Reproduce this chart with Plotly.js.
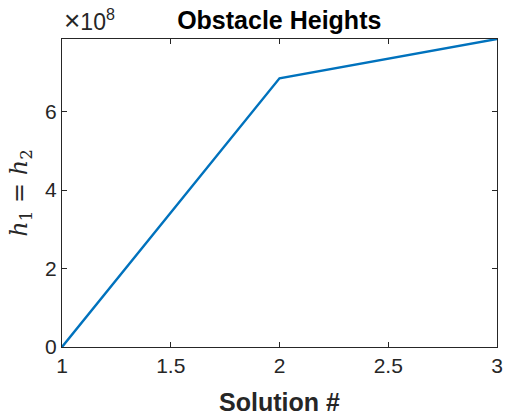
<!DOCTYPE html>
<html>
<head>
<meta charset="utf-8">
<script src="https://cdn.plot.ly/plotly-3.0.1.min.js"></script>
<style>html,body{margin:0;padding:0;background:#fff;}#chart{width:505px;height:419px;}</style>
</head>
<body>
<div id="chart"></div>
<script>
const solutions = [1, 2, 3];
const heights = [0, 6.85e8, 7.85e8];
const xTickVals = [1, 1.5, 2, 2.5, 3];
const xTickText = ['1', '1.5', '2', '2.5', '3'];
const yTickVals = [0, 2e8, 4e8, 6e8];
const yTickText = ['0', '2', '4', '6'];

const axisColor = '#262626';
const font = 'Liberation Sans, Arial, sans-serif';

Plotly.newPlot('chart', [{
  x: solutions,
  y: heights,
  type: 'scatter',
  mode: 'lines',
  line: {color: '#0072BD', width: 2.4},
  hoverinfo: 'none'
}], {
  width: 505,
  height: 419,
  margin: {l: 62, r: 8, t: 39, b: 72},
  paper_bgcolor: '#fff',
  plot_bgcolor: '#fff',
  showlegend: false,
  title: {
    text: '<b>Obstacle Heights</b>',
    font: {family: font, size: 25, color: '#000'},
    x: 0.553, xanchor: 'center', y: 0.952, yanchor: 'middle'
  },
  xaxis: {
    range: [1, 3],
    tickvals: xTickVals,
    ticktext: xTickText,
    ticks: 'inside', ticklen: 5, tickwidth: 1, tickcolor: axisColor,
    showline: true, linecolor: axisColor, linewidth: 1, mirror: 'ticks',
    showgrid: false, zeroline: false,
    tickfont: {family: font, size: 21, color: axisColor},
    title: {text: '<b>Solution #</b>', font: {family: font, size: 25, color: axisColor}, standoff: 17}
  },
  yaxis: {
    range: [0, 7.85e8],
    tickvals: yTickVals,
    ticktext: yTickText,
    ticks: 'inside', ticklen: 5, tickwidth: 1, tickcolor: axisColor,
    showline: true, linecolor: axisColor, linewidth: 1, mirror: 'ticks',
    showgrid: false, zeroline: false,
    tickfont: {family: font, size: 21, color: axisColor},
    title: {text: '<i>h</i><sub>1</sub> = <i>h</i><sub>2</sub>', font: {family: 'DejaVu Serif, Liberation Serif, serif', size: 24, color: axisColor}, standoff: 10}
  },
  annotations: [{
    xref: 'paper', yref: 'paper',
    x: 0, y: 1, xanchor: 'left', yanchor: 'bottom', yshift: 1, xshift: 0,
    text: '<span style="font-size:28px">×</span>10<sup>8</sup>', showarrow: false,
    font: {family: font, size: 23, color: axisColor}
  }]
}, {staticPlot: true});
</script>
</body>
</html>
